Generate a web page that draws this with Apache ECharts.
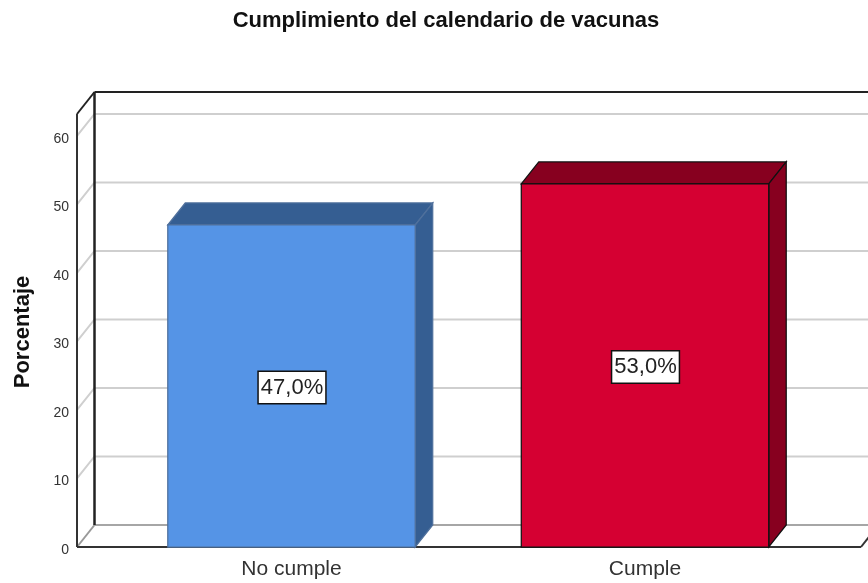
<!DOCTYPE html>
<html>
<head>
<meta charset="utf-8">
<title>Cumplimiento del calendario de vacunas</title>
<script src="https://cdn.jsdelivr.net/npm/echarts@6/dist/echarts.min.js"></script>
<style>
  html, body { margin: 0; padding: 0; background: #fff; }
  #chart { width: 868px; height: 583px; }
</style>
</head>
<body>
<div id="chart"></div>
<script>
const categories = ['No cumple', 'Cumple']
const porcentaje = [47.0, 53.0]
const gridTicks = [10, 20, 30, 40, 50, 60]

const frontColors = ['#5594e6', '#d50032']
const sideColors = ['#355e92', '#87001f']
const edgeColors = ['#4f709c', '#111']

// 3d look: how far the back wall sits from the front plane
const depthX = 17.5
const depthY = 22
const axisMax = 63.2
const frontLeft = 77
const frontRight = 861

const font = '"Liberation Sans", Arial, sans-serif'
const chart = echarts.init(document.getElementById('chart'), null, { renderer: 'canvas' })

function line(x1, y1, x2, y2, color, width) {
  return {
    type: 'line',
    shape: { x1: x1, y1: y1, x2: x2, y2: y2 },
    style: { stroke: color, lineWidth: width, fill: null }
  }
}

function renderGridLine(params, api) {
  const y = api.coord([0, api.value(0)])[1]
  return {
    type: 'polyline',
    shape: { points: [[frontLeft, y], [frontLeft + depthX, y - depthY], [frontRight + depthX + 1, y - depthY]] },
    style: { stroke: '#cfcfcf', lineWidth: 2, fill: null }
  }
}

function renderFrame(params, api) {
  const y0 = api.coord([0, 0])[1]
  const yTop = api.coord([0, axisMax])[1]
  const l = frontLeft
  const r = frontRight
  const dx = depthX
  const dy = depthY
  return {
    type: 'group',
    children: [
      line(l + dx, y0 - dy, r + dx + 1, y0 - dy, '#a6a6a6', 2),
      line(l, y0, l + dx, y0 - dy, '#999', 2),
      line(l + dx, yTop - dy, l + dx, y0 - dy, '#222', 2.5),
      line(l + dx, yTop - dy, r + dx + 1, yTop - dy, '#222', 2),
      line(l, yTop, l + dx, yTop - dy, '#222', 2),
      line(l, yTop, l, y0, '#333', 2),
      line(l, y0, r, y0, '#333', 2),
      line(r, y0, r + dx, y0 - dy, '#333', 2)
    ]
  }
}

function renderBar(params, api) {
  const i = api.value(0)
  const val = api.value(1)
  const top = api.coord([i, val])
  const bottom = api.coord([i, 0])
  const half = api.size([1, 0])[0] * 0.35
  const x1 = top[0] - half
  const x2 = top[0] + half
  const edge = { stroke: edgeColors[i], lineWidth: 1.25 }
  return {
    type: 'group',
    children: [
      {
        type: 'polygon',
        shape: { points: [[x1, top[1]], [x1 + depthX, top[1] - depthY], [x2 + depthX, top[1] - depthY], [x2, top[1]]] },
        style: Object.assign({ fill: sideColors[i] }, edge)
      },
      {
        type: 'polygon',
        shape: { points: [[x2, top[1]], [x2 + depthX, top[1] - depthY], [x2 + depthX, bottom[1] - depthY], [x2, bottom[1]]] },
        style: Object.assign({ fill: sideColors[i] }, edge)
      },
      {
        type: 'rect',
        shape: { x: x1, y: top[1], width: x2 - x1, height: bottom[1] - top[1] },
        style: Object.assign({ fill: frontColors[i] }, edge)
      },
      {
        type: 'text',
        x: top[0] + 0.5,
        y: (top[1] + bottom[1]) / 2 + 1.5,
        style: {
          text: val.toFixed(1).replace('.', ',') + '%',
          fill: '#222',
          font: '22px ' + font,
          align: 'center',
          verticalAlign: 'middle',
          backgroundColor: '#fff',
          borderColor: '#111',
          borderWidth: 1.5,
          padding: [5, 2, 4, 2]
        }
      }
    ]
  }
}

chart.setOption({
  animation: false,
  backgroundColor: '#fff',
  title: {
    text: 'Cumplimiento del calendario de vacunas',
    left: 441,
    top: 5,
    textAlign: 'center',
    textStyle: { fontFamily: font, fontSize: 22, fontWeight: 'bold', color: '#111' }
  },
  grid: { left: 114.75, top: 114, width: 707, height: 433 },
  xAxis: {
    type: 'category',
    data: categories,
    axisLine: { show: false },
    axisTick: { show: false },
    axisLabel: { fontFamily: font, fontSize: 21, color: '#333', margin: 12 }
  },
  yAxis: {
    type: 'value',
    min: 0,
    max: axisMax,
    interval: 10,
    offset: 37.75,
    name: 'Porcentaje',
    nameLocation: 'middle',
    nameRotate: 90,
    nameGap: 43,
    nameTextStyle: { fontFamily: font, fontSize: 22, fontWeight: 'bold', color: '#111', padding: [0, 3, 0, 0] },
    axisLine: { show: false },
    axisTick: { show: false },
    splitLine: { show: false },
    axisLabel: { fontFamily: font, fontSize: 14, color: '#333', margin: 8, showMaxLabel: false, verticalAlign: 'top', lineHeight: 6 }
  },
  series: [
    { type: 'custom', renderItem: renderGridLine, data: gridTicks.map(v => [v]), silent: true, z: 1 },
    { type: 'custom', renderItem: renderFrame, data: [[0]], silent: true, z: 2 },
    { type: 'custom', renderItem: renderBar, data: porcentaje.map((v, i) => [i, v]), z: 3 }
  ]
})

window.addEventListener('resize', () => {
  chart.resize()
})
</script>
</body>
</html>
